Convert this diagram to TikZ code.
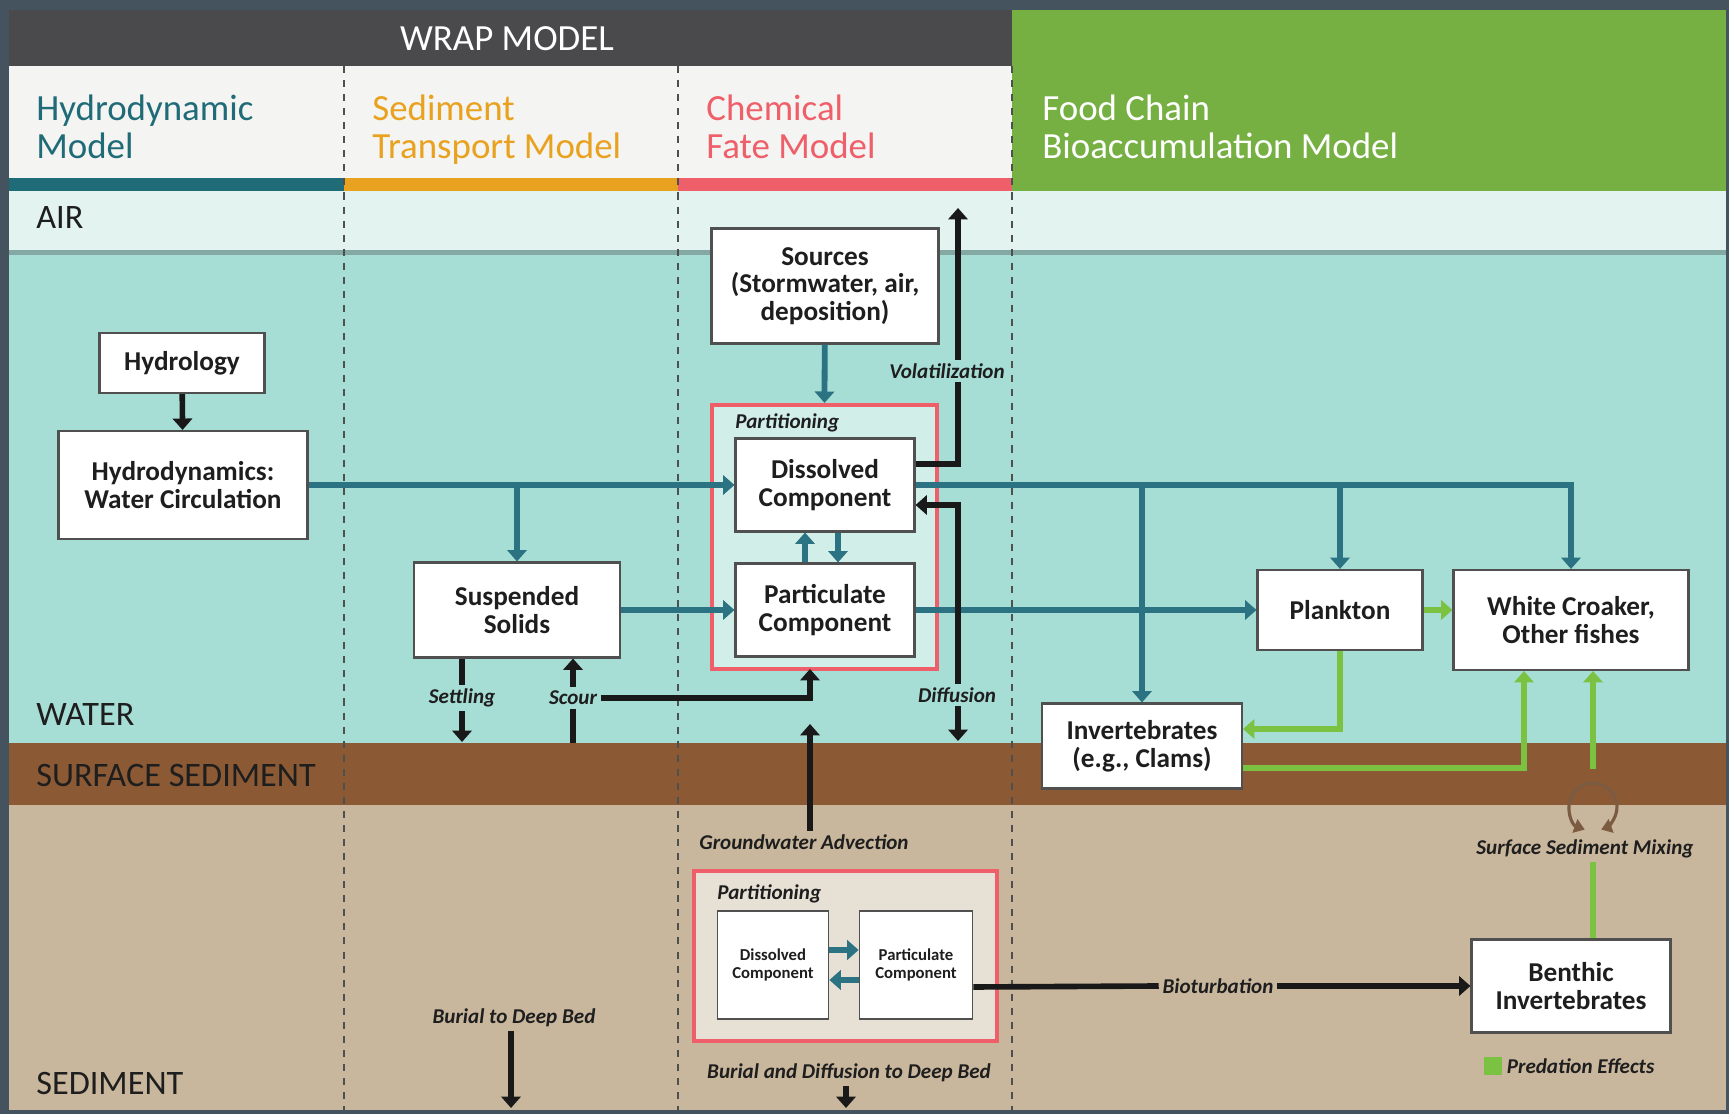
\documentclass[tikz,border=0pt]{standalone}
\usepackage{fontspec}
\setmainfont{Carlito}
\usetikzlibrary{arrows.meta,calc}
\definecolor{framecol}{HTML}{45535E}
\definecolor{hdrgray}{HTML}{4A4A4C}
\definecolor{titlebg}{HTML}{F4F4F2}
\definecolor{fcgreen}{HTML}{76B043}
\definecolor{hydteal}{HTML}{1F6B77}
\definecolor{sedorange}{HTML}{E9A21F}
\definecolor{chemred}{HTML}{EF5F6A}
\definecolor{airbg}{HTML}{E3F3F0}
\definecolor{sepgray}{HTML}{84A9A4}
\definecolor{waterbg}{HTML}{A6DDD5}
\definecolor{surfsed}{HTML}{8B5A35}
\definecolor{sedbg}{HTML}{C9B79D}
\definecolor{partwater}{HTML}{D2EEE9}
\definecolor{partsed}{HTML}{E7E1D5}
\definecolor{flowteal}{HTML}{2B7282}
\definecolor{predgreen}{HTML}{7CC242}
\definecolor{boxgray}{HTML}{505050}
\definecolor{textdark}{HTML}{1E1E1E}
\definecolor{divgray}{HTML}{4F4F4F}
\definecolor{mixbrown}{HTML}{7B5B42}
\begin{document}
\begin{tikzpicture}[x=0.02cm,y=-0.02cm,
    box/.style={draw=boxgray, line width=1.2pt, fill=white, align=center, text=textdark,
      font=\fontsize{15.5}{15.8}\selectfont\bfseries, inner sep=2pt},
    smallbox/.style={box, line width=1pt, font=\fontsize{9.5}{10.5}\selectfont\bfseries},
    partbox/.style={draw=chemred, line width=2.4pt},
    flowlbl/.style={font=\fontsize{12}{13}\selectfont\bfseries\itshape, text=textdark, inner sep=2pt},
    layerlbl/.style={anchor=west, inner sep=0pt, text=textdark, font=\fontsize{19.5}{20}\selectfont},
    modeltitle/.style={anchor=west, align=left, inner sep=0pt, font=\fontsize{21}{21.5}\selectfont},
    divider/.style={draw=divgray, line width=1.1pt, dash pattern=on 4pt off 4pt},
    tealflow/.style={draw=flowteal, line width=3.3pt},
    blackflow/.style={draw=black!90, line width=3.2pt},
    greenflow/.style={draw=predgreen, line width=3.3pt},
    headed/.style={-{Triangle[width=11pt,length=6.5pt]}}]

    \useasboundingbox (0,0) rectangle (1729,1114);
    \fill[framecol] (0,0) rectangle (1729,1114);
    \fill[hdrgray] (9,10) rectangle (1012,66);
    \fill[titlebg] (9,66) rectangle (1012,178);
    \fill[fcgreen] (1012,10) rectangle (1726,191);
    \fill[hydteal] (9,178) rectangle (344,191);
    \fill[sedorange] (344,178) rectangle (678,191);
    \fill[chemred] (678,178) rectangle (1012,191);
    \fill[airbg] (9,191) rectangle (1726,250);
    \fill[sepgray] (9,250) rectangle (1726,255);
    \fill[waterbg] (9,255) rectangle (1726,743);
    \fill[surfsed] (9,743) rectangle (1726,805);
    \fill[sedbg] (9,805) rectangle (1726,1110);
    \foreach \x in {344,678,1012}
        \draw[divider] (\x,66) -- (\x,1110);

    \node[text=white, font=\fontsize{21}{22}\selectfont] (wrap) at (507,39) {WRAP MODEL};
    \node[modeltitle, text=hydteal] (hydtitle) at (36,127) {Hydrodynamic\\Model};
    \node[modeltitle, text=sedorange] (sedtitle) at (372,130) {Sediment\\Transport Model};
    \node[modeltitle, text=chemred] (chemtitle) at (706,127) {Chemical\\Fate Model};
    \node[modeltitle, text=white] (fctitle) at (1042,127) {Food Chain\\Bioaccumulation Model};

    \node[layerlbl] (air) at (36,218) {AIR};
    \node[layerlbl] (water) at (36,715) {WATER};
    \node[layerlbl] (surface) at (36,776) {SURFACE SEDIMENT};
    \node[layerlbl] (sediment) at (36,1083) {SEDIMENT};

    \node[box, minimum width=3.3cm, minimum height=1.2cm] (hydrology) at (182,363) {Hydrology};
    \node[box, minimum width=4.98cm, minimum height=2.16cm] (hydrodyn) at (183,485) {Hydrodynamics:\\Water Circulation};
    \node[box, minimum width=4.12cm, minimum height=1.9cm] (solids) at (517,610) {Suspended\\Solids};
    \node[box, minimum width=4.54cm, minimum height=2.3cm] (sources) at (825,286) {Sources\\(Stormwater, air,\\deposition)};
    \node[partbox, fill=partwater, minimum width=4.5cm, minimum height=5.28cm] (waterpart) at (824.5,537) {};
    \node[flowlbl, anchor=west, inner sep=0pt] (waterpartlbl) at (735,423) {Partitioning};
    \node[box, minimum width=3.58cm, minimum height=1.86cm] (dissolved) at (825,485) {Dissolved\\Component};
    \node[box, minimum width=3.58cm, minimum height=1.86cm] (particulate) at (825,610) {Particulate\\Component};
    \node[box, minimum width=3.3cm, minimum height=1.6cm] (plankton) at (1340,610) {Plankton};
    \node[box, minimum width=4.7cm, minimum height=2cm] (croaker) at (1571,620) {White Croaker,\\Other fishes};
    \node[box, minimum width=4cm, minimum height=1.7cm] (clams) at (1142,746) {Invertebrates\\(e.g., Clams)};
    \node[box, minimum width=3.98cm, minimum height=1.86cm] (benthic) at (1571,986) {Benthic\\Invertebrates};
    \node[partbox, fill=partsed, minimum width=6.06cm, minimum height=3.4cm] (sedpart) at (845.5,956) {};
    \node[flowlbl, anchor=west, inner sep=0pt] (sedpartlbl) at (717,894) {Partitioning};
    \node[smallbox, minimum width=2.22cm, minimum height=2.16cm] (seddis) at (773,965) {Dissolved\\Component};
    \node[smallbox, minimum width=2.26cm, minimum height=2.16cm] (sedpar) at (916,965) {Particulate\\Component};

    \node[flowlbl] (volat) at (947,371) {Volatilization};
    \node[flowlbl] (diffusion) at (957,695) {Diffusion};
    \node[flowlbl] (settling) at (462,698) {Settling};
    \node[flowlbl] (scour) at (573,698) {Scour};
    \node[flowlbl] (groundwater) at (804,842) {Groundwater Advection};
    \node[flowlbl] (mixlbl) at (1585,849) {Surface Sediment Mixing};
    \node[flowlbl] (bioturb) at (1218,986) {Bioturbation};
    \node[flowlbl] (burialdeep) at (514,1018) {Burial to Deep Bed};
    \node[flowlbl] (burialdiff) at (849,1073) {Burial and Diffusion to Deep Bed};
    \node[fill=predgreen, minimum size=0.36cm, inner sep=0pt] (predkey) at (1493,1066) {};
    \node[flowlbl, anchor=west] (predlbl) at (1503,1066) {Predation Effects};
    \node[circle, minimum size=1.5cm, inner sep=0pt] (mixing) at (1593,807) {};

    \coordinate (airtop) at (958,208);
    \coordinate (diffbed) at (958,741);
    \coordinate (settlebed) at (462,742);
    \coordinate (scourbed) at (573,743);
    \coordinate (scourin) at (810,669);
    \coordinate (gwtip) at (810,724);
    \coordinate (burialbed) at (511,1108);
    \coordinate (burialdiffbed) at (846,1108);

    \draw[tealflow, headed] (hydrodyn.east) -- (dissolved.west);
    \draw[tealflow, headed] (hydrodyn.east -| solids.north) -- (solids.north);
    \draw[tealflow, headed] (solids) -- (particulate);
    \draw[tealflow, headed] (sources) -- (waterpart.north);
    \draw[tealflow, headed] ([xshift=-0.4cm]particulate.north) -- ([xshift=-0.4cm]dissolved.south);
    \draw[tealflow, headed] ([xshift=0.26cm]dissolved.south) -- ([xshift=0.26cm]particulate.north);
    \draw[tealflow, headed] (dissolved.east) -| (croaker.north);
    \draw[tealflow, headed] (dissolved.east -| plankton.north) -- (plankton.north);
    \draw[tealflow, headed] (dissolved.east -| clams.north) -- (clams.north);
    \draw[tealflow, headed] (particulate) -- (plankton);
    \draw[tealflow, headed] ([yshift=0.3cm]seddis.east) -- ([yshift=0.3cm]sedpar.west);
    \draw[tealflow, headed] ([yshift=-0.3cm]sedpar.west) -- ([yshift=-0.3cm]seddis.east);

    \draw[blackflow, headed] (hydrology) -- (hydrodyn);
    \draw[blackflow] ([yshift=0.42cm]dissolved.east) -| (volat.south -| airtop);
    \draw[blackflow, headed] (volat.north -| airtop) -- (airtop);
    \draw[blackflow, headed] (diffusion.north -| diffbed) |- ([yshift=-0.4cm]dissolved.east);
    \draw[blackflow, headed] (diffusion.south -| diffbed) -- (diffbed);
    \draw[blackflow] (solids.south -| settlebed) -- (settling.north -| settlebed);
    \draw[blackflow, headed] (settling.south -| settlebed) -- (settlebed);
    \draw[blackflow] (scourbed) -- (scour.south -| scourbed);
    \draw[blackflow, headed] (scour.north -| scourbed) -- (solids.south -| scourbed);
    \draw[blackflow, headed] (scour.east) -| (scourin);
    \draw[blackflow, headed] (groundwater.north -| gwtip) -- (gwtip);
    \draw[blackflow] ([yshift=-0.44cm]sedpar.east) -- (bioturb.west);
    \draw[blackflow, headed] (bioturb.east) -- (bioturb.east -| benthic.west);
    \draw[blackflow, headed] (burialdeep.south -| burialbed) -- (burialbed);
    \draw[blackflow, headed] (burialdiff.south -| burialdiffbed) -- (burialdiffbed);

    \draw[greenflow, headed] (plankton.east) -- (plankton.east -| croaker.west);
    \draw[greenflow, headed] (plankton.south) |- ([yshift=0.34cm]clams.east);
    \draw[greenflow, headed] ([yshift=-0.44cm]clams.east) -| ([xshift=-0.94cm]croaker.south);
    \draw[greenflow, headed] (mixing.north) -- (mixing.north |- croaker.south);
    \draw[greenflow] (benthic.north -| mixing.north) -- (mixlbl.south -| mixing.north);
    \draw[mixbrown, line width=1.8pt, {Triangle[width=8pt,length=6pt]}-{Triangle[width=8pt,length=6pt]}]
        ([shift={(250:0.48cm)}]mixing.center) arc[start angle=250, end angle=-70, radius=0.48cm];
\end{tikzpicture}
\end{document}
